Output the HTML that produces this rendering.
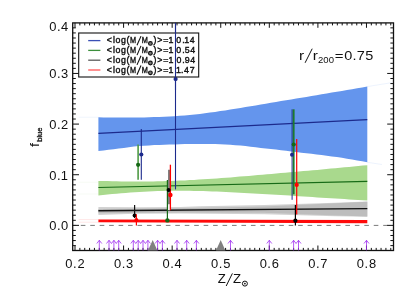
<!DOCTYPE html><html><head><meta charset="utf-8"><style>html,body{margin:0;padding:0;background:#fff;}svg{display:block;will-change:transform;}text{font-family:"Liberation Sans",sans-serif;fill:#111;}</style></head><body>
<svg width="415" height="297" viewBox="0 0 415 297">
<rect width="415" height="297" fill="#fff"/>
<filter id="idf" x="0" y="0" width="415" height="297" filterUnits="userSpaceOnUse"><feOffset dx="0" dy="0"/></filter>
<g filter="url(#idf)">
<polygon points="98.4,117.3 103.5,117.4 108.5,117.5 113.6,117.5 118.7,117.6 123.8,117.6 128.8,117.6 133.9,117.5 139.0,117.5 144.1,117.4 149.1,117.2 154.2,117.1 159.3,116.9 164.4,116.7 169.4,116.5 174.5,116.2 179.6,115.8 184.7,115.5 189.7,115.0 194.8,114.5 199.9,114.0 204.9,113.3 210.0,112.6 215.1,111.9 220.2,111.1 225.2,110.4 230.3,109.6 235.4,108.7 240.5,107.9 245.5,107.1 250.6,106.3 255.7,105.5 260.8,104.6 265.8,103.7 270.9,102.8 276.0,101.9 281.0,101.1 286.1,100.2 291.2,99.4 296.3,98.6 301.3,97.7 306.4,96.9 311.5,96.0 316.6,95.2 321.6,94.3 326.7,93.5 331.8,92.6 336.9,91.8 341.9,90.9 347.0,90.0 352.1,89.2 357.2,88.3 362.2,87.5 367.3,86.6 367.3,162.3 362.2,161.3 357.2,160.4 352.1,159.5 347.0,158.7 341.9,157.8 336.9,157.1 331.8,156.4 326.7,155.7 321.6,155.0 316.6,154.4 311.5,153.8 306.4,153.3 301.3,152.7 296.3,152.1 291.2,151.4 286.1,150.8 281.0,150.2 276.0,149.6 270.9,149.1 265.8,148.5 260.8,147.9 255.7,147.3 250.6,146.7 245.5,146.1 240.5,145.6 235.4,145.2 230.3,144.8 225.2,144.5 220.2,144.3 215.1,144.1 210.0,144.0 204.9,144.0 199.9,143.9 194.8,143.9 189.7,143.9 184.7,144.0 179.6,144.3 174.5,144.4 169.4,144.6 164.4,144.8 159.3,144.9 154.2,145.1 149.1,145.4 144.1,145.7 139.0,146.1 133.9,146.6 128.8,147.2 123.8,147.9 118.7,148.6 113.6,149.2 108.5,149.8 103.5,150.4 98.4,151.0" fill="#6495ed" fill-opacity="1"/>
<line x1="98.4" y1="133.4" x2="367.3" y2="119.6" stroke="#1c2a8c" stroke-width="1.2"/>
<polygon points="98.4,180.9 103.0,181.0 107.5,181.1 112.1,181.2 116.6,181.3 121.2,181.4 125.7,181.4 130.3,181.5 134.9,181.5 139.4,181.5 144.0,181.5 148.5,181.5 153.1,181.4 157.6,181.3 162.2,181.2 166.8,181.1 171.3,180.9 175.9,180.8 180.4,180.6 185.0,180.4 189.6,180.1 194.1,179.9 198.7,179.6 203.2,179.3 207.8,179.0 212.3,178.7 216.9,178.4 221.5,178.0 226.0,177.7 230.6,177.4 235.1,177.0 239.7,176.6 244.2,176.3 248.8,175.9 253.4,175.5 257.9,175.1 262.5,174.7 267.0,174.3 271.6,173.9 276.1,173.5 280.7,173.1 285.3,172.7 289.8,172.3 294.4,171.9 298.9,171.5 303.5,171.1 308.1,170.7 312.6,170.3 317.2,169.9 321.7,169.4 326.3,169.0 330.8,168.6 335.4,168.2 340.0,167.8 344.5,167.3 349.1,166.9 353.6,166.5 358.2,166.1 362.7,165.6 367.3,165.2 367.3,200.6 362.7,200.3 358.2,200.0 353.6,199.7 349.1,199.4 344.5,199.1 340.0,198.8 335.4,198.5 330.8,198.2 326.3,197.9 321.7,197.7 317.2,197.4 312.6,197.1 308.1,196.8 303.5,196.5 298.9,196.2 294.4,195.9 289.8,195.6 285.3,195.3 280.7,195.1 276.1,194.8 271.6,194.5 267.0,194.2 262.5,194.0 257.9,193.7 253.4,193.5 248.8,193.2 244.2,193.0 239.7,192.7 235.1,192.5 230.6,192.2 226.0,192.0 221.5,191.8 216.9,191.6 212.3,191.4 207.8,191.3 203.2,191.1 198.7,191.0 194.1,190.9 189.6,190.8 185.0,190.7 180.4,190.7 175.9,190.7 171.3,190.8 166.8,190.8 162.2,190.9 157.6,191.1 153.1,191.3 148.5,191.5 144.0,191.7 139.4,192.0 134.9,192.3 130.3,192.6 125.7,193.0 121.2,193.3 116.6,193.7 112.1,194.1 107.5,194.5 103.0,194.9 98.4,195.4" fill="#a9d98d" fill-opacity="1"/>
<line x1="98.4" y1="187.5" x2="367.3" y2="181.3" stroke="#176b17" stroke-width="1.2"/>
<polygon points="98.4,206.9 140.0,207.3 180.0,207.0 200.0,206.2 264.0,205.0 335.0,202.7 367.3,201.6 367.3,216.7 335.0,216.2 264.0,214.3 180.0,213.6 135.0,213.7 98.4,215.0" fill="#d2d2d2" fill-opacity="1"/>
<polygon points="98.4,208.9 180.0,208.3 264.0,206.6 330.0,203.6 367.3,201.8 367.3,216.6 330.0,215.2 264.0,212.8 180.0,212.4 98.4,213.2" fill="#bdbdbd" fill-opacity="1"/>
<line x1="98.4" y1="210.75" x2="367.3" y2="208.6" stroke="#111" stroke-width="1.3"/>
<polygon points="98.4,219.5 367.3,220.0 367.3,223.2 98.4,222.3" fill="#ff0a0a" fill-opacity="1"/>
<line x1="72.7" y1="225.4" x2="393.5" y2="225.4" stroke="#7a7a7a" stroke-width="1" stroke-dasharray="4.6 4.85" stroke-dashoffset="1.35"/>
<line x1="78.7" y1="117.2" x2="98.4" y2="117.2" stroke="#6495ed" stroke-width="0.6" stroke-opacity="0.17"/>
<line x1="78.7" y1="219.6" x2="98.4" y2="219.6" stroke="#ff0000" stroke-width="0.6" stroke-opacity="0.17"/>
<line x1="78.7" y1="222.2" x2="98.4" y2="222.2" stroke="#ff0000" stroke-width="0.6" stroke-opacity="0.17"/>
<line x1="78.7" y1="182.2" x2="98.4" y2="182.2" stroke="#a9d98d" stroke-width="0.6" stroke-opacity="0.17"/>
<line x1="78.7" y1="194.0" x2="98.4" y2="194.0" stroke="#a9d98d" stroke-width="0.6" stroke-opacity="0.17"/>
<line x1="367.3" y1="86.6" x2="392" y2="82.6" stroke="#6495ed" stroke-width="0.6" stroke-opacity="0.2"/>
<line x1="367.3" y1="162.3" x2="382" y2="164.5" stroke="#6495ed" stroke-width="0.6" stroke-opacity="0.2"/>
<line x1="138.1" y1="144.5" x2="138.1" y2="179.7" stroke="#4f9a45" stroke-width="1.6"/>
<circle cx="138.1" cy="164.8" r="2.1" fill="#156815"/>
<line x1="141.3" y1="129.0" x2="141.3" y2="179.7" stroke="#1c2a8c" stroke-width="1.1"/>
<circle cx="141.3" cy="154.5" r="2.1" fill="#1c2a8c"/>
<line x1="134.6" y1="205.1" x2="134.6" y2="218.0" stroke="#111" stroke-width="1.2"/>
<circle cx="134.6" cy="215.4" r="2.0" fill="#000"/>
<line x1="136.4" y1="214.2" x2="136.4" y2="225.6" stroke="#ff0000" stroke-width="1.2"/>
<circle cx="136.4" cy="220.0" r="2.0" fill="#ff0000"/>
<line x1="175.5" y1="22.9" x2="175.5" y2="189.4" stroke="#1c2a8c" stroke-width="1.1"/>
<circle cx="175.6" cy="79.1" r="2.1" fill="#1c2a8c"/>
<line x1="169.0" y1="169.8" x2="169.0" y2="204.5" stroke="#808080" stroke-width="2.0"/>
<line x1="169.0" y1="204.5" x2="169.0" y2="210.2" stroke="#f4f4f4" stroke-width="2.0"/>
<line x1="167.4" y1="180.0" x2="167.4" y2="220.4" stroke="#156815" stroke-width="1.2"/>
<circle cx="167.4" cy="220.4" r="2.2" fill="#156815"/>
<line x1="170.4" y1="164.7" x2="170.4" y2="210.2" stroke="#ff0000" stroke-width="1.3"/>
<circle cx="170.4" cy="195.0" r="2.2" fill="#ff0000"/>
<circle cx="168.6" cy="190.1" r="2.0" fill="#000"/>
<line x1="292.1" y1="109.3" x2="292.1" y2="199.8" stroke="#1c2a8c" stroke-width="1.0"/>
<line x1="293.7" y1="109.3" x2="293.7" y2="194.3" stroke="#1d7a2d" stroke-width="1.8"/>
<circle cx="293.7" cy="144.5" r="2.1" fill="#156815"/>
<circle cx="292.0" cy="154.8" r="2.0" fill="#1c2a8c"/>
<line x1="296.7" y1="139.1" x2="296.7" y2="214.5" stroke="#ff0000" stroke-width="1.2"/>
<circle cx="296.7" cy="184.9" r="2.1" fill="#ff0000"/>
<line x1="295.4" y1="204.9" x2="295.4" y2="225.6" stroke="#000" stroke-width="1.2"/>
<circle cx="295.4" cy="220.7" r="2.1" fill="#000"/>
<rect x="72.7" y="22.9" width="320.8" height="227.6" fill="none" stroke="#111" stroke-width="1.3"/>
<path d="M75.00 22.9v4.9 M75.00 250.4v-4.9 M79.86 22.9v2.5 M79.86 250.4v-2.5 M84.72 22.9v2.5 M84.72 250.4v-2.5 M89.57 22.9v2.5 M89.57 250.4v-2.5 M94.43 22.9v2.5 M94.43 250.4v-2.5 M99.29 22.9v2.5 M99.29 250.4v-2.5 M104.15 22.9v2.5 M104.15 250.4v-2.5 M109.01 22.9v2.5 M109.01 250.4v-2.5 M113.86 22.9v2.5 M113.86 250.4v-2.5 M118.72 22.9v2.5 M118.72 250.4v-2.5 M123.58 22.9v4.9 M123.58 250.4v-4.9 M128.44 22.9v2.5 M128.44 250.4v-2.5 M133.30 22.9v2.5 M133.30 250.4v-2.5 M138.15 22.9v2.5 M138.15 250.4v-2.5 M143.01 22.9v2.5 M143.01 250.4v-2.5 M147.87 22.9v2.5 M147.87 250.4v-2.5 M152.73 22.9v2.5 M152.73 250.4v-2.5 M157.59 22.9v2.5 M157.59 250.4v-2.5 M162.44 22.9v2.5 M162.44 250.4v-2.5 M167.30 22.9v2.5 M167.30 250.4v-2.5 M172.16 22.9v4.9 M172.16 250.4v-4.9 M177.02 22.9v2.5 M177.02 250.4v-2.5 M181.88 22.9v2.5 M181.88 250.4v-2.5 M186.73 22.9v2.5 M186.73 250.4v-2.5 M191.59 22.9v2.5 M191.59 250.4v-2.5 M196.45 22.9v2.5 M196.45 250.4v-2.5 M201.31 22.9v2.5 M201.31 250.4v-2.5 M206.17 22.9v2.5 M206.17 250.4v-2.5 M211.02 22.9v2.5 M211.02 250.4v-2.5 M215.88 22.9v2.5 M215.88 250.4v-2.5 M220.74 22.9v4.9 M220.74 250.4v-4.9 M225.60 22.9v2.5 M225.60 250.4v-2.5 M230.46 22.9v2.5 M230.46 250.4v-2.5 M235.31 22.9v2.5 M235.31 250.4v-2.5 M240.17 22.9v2.5 M240.17 250.4v-2.5 M245.03 22.9v2.5 M245.03 250.4v-2.5 M249.89 22.9v2.5 M249.89 250.4v-2.5 M254.75 22.9v2.5 M254.75 250.4v-2.5 M259.60 22.9v2.5 M259.60 250.4v-2.5 M264.46 22.9v2.5 M264.46 250.4v-2.5 M269.32 22.9v4.9 M269.32 250.4v-4.9 M274.18 22.9v2.5 M274.18 250.4v-2.5 M279.04 22.9v2.5 M279.04 250.4v-2.5 M283.89 22.9v2.5 M283.89 250.4v-2.5 M288.75 22.9v2.5 M288.75 250.4v-2.5 M293.61 22.9v2.5 M293.61 250.4v-2.5 M298.47 22.9v2.5 M298.47 250.4v-2.5 M303.33 22.9v2.5 M303.33 250.4v-2.5 M308.18 22.9v2.5 M308.18 250.4v-2.5 M313.04 22.9v2.5 M313.04 250.4v-2.5 M317.90 22.9v4.9 M317.90 250.4v-4.9 M322.76 22.9v2.5 M322.76 250.4v-2.5 M327.62 22.9v2.5 M327.62 250.4v-2.5 M332.47 22.9v2.5 M332.47 250.4v-2.5 M337.33 22.9v2.5 M337.33 250.4v-2.5 M342.19 22.9v2.5 M342.19 250.4v-2.5 M347.05 22.9v2.5 M347.05 250.4v-2.5 M351.91 22.9v2.5 M351.91 250.4v-2.5 M356.76 22.9v2.5 M356.76 250.4v-2.5 M361.62 22.9v2.5 M361.62 250.4v-2.5 M366.48 22.9v4.9 M366.48 250.4v-4.9 M371.34 22.9v2.5 M371.34 250.4v-2.5 M376.20 22.9v2.5 M376.20 250.4v-2.5 M381.05 22.9v2.5 M381.05 250.4v-2.5 M385.91 22.9v2.5 M385.91 250.4v-2.5 M390.77 22.9v2.5 M390.77 250.4v-2.5 M72.7 245.62h3.1 M393.5 245.62h-3.1 M72.7 240.55h3.1 M393.5 240.55h-3.1 M72.7 235.49h3.1 M393.5 235.49h-3.1 M72.7 230.42h3.1 M393.5 230.42h-3.1 M72.7 225.36h6.3 M393.5 225.36h-6.3 M72.7 220.30h3.1 M393.5 220.30h-3.1 M72.7 215.23h3.1 M393.5 215.23h-3.1 M72.7 210.17h3.1 M393.5 210.17h-3.1 M72.7 205.10h3.1 M393.5 205.10h-3.1 M72.7 200.04h3.1 M393.5 200.04h-3.1 M72.7 194.98h3.1 M393.5 194.98h-3.1 M72.7 189.91h3.1 M393.5 189.91h-3.1 M72.7 184.85h3.1 M393.5 184.85h-3.1 M72.7 179.78h3.1 M393.5 179.78h-3.1 M72.7 174.72h6.3 M393.5 174.72h-6.3 M72.7 169.66h3.1 M393.5 169.66h-3.1 M72.7 164.59h3.1 M393.5 164.59h-3.1 M72.7 159.53h3.1 M393.5 159.53h-3.1 M72.7 154.46h3.1 M393.5 154.46h-3.1 M72.7 149.40h3.1 M393.5 149.40h-3.1 M72.7 144.34h3.1 M393.5 144.34h-3.1 M72.7 139.27h3.1 M393.5 139.27h-3.1 M72.7 134.21h3.1 M393.5 134.21h-3.1 M72.7 129.14h3.1 M393.5 129.14h-3.1 M72.7 124.08h6.3 M393.5 124.08h-6.3 M72.7 119.02h3.1 M393.5 119.02h-3.1 M72.7 113.95h3.1 M393.5 113.95h-3.1 M72.7 108.89h3.1 M393.5 108.89h-3.1 M72.7 103.82h3.1 M393.5 103.82h-3.1 M72.7 98.76h3.1 M393.5 98.76h-3.1 M72.7 93.70h3.1 M393.5 93.70h-3.1 M72.7 88.63h3.1 M393.5 88.63h-3.1 M72.7 83.57h3.1 M393.5 83.57h-3.1 M72.7 78.50h3.1 M393.5 78.50h-3.1 M72.7 73.44h6.3 M393.5 73.44h-6.3 M72.7 68.38h3.1 M393.5 68.38h-3.1 M72.7 63.31h3.1 M393.5 63.31h-3.1 M72.7 58.25h3.1 M393.5 58.25h-3.1 M72.7 53.18h3.1 M393.5 53.18h-3.1 M72.7 48.12h3.1 M393.5 48.12h-3.1 M72.7 43.06h3.1 M393.5 43.06h-3.1 M72.7 37.99h3.1 M393.5 37.99h-3.1 M72.7 32.93h3.1 M393.5 32.93h-3.1 M72.7 27.86h3.1 M393.5 27.86h-3.1" stroke="#111" stroke-width="1" fill="none"/>
<path d="M99.3 250.4 V240.3 M96.8 243.5 L99.3 240.3 L101.8 243.5" fill="none" stroke="#a030f0" stroke-width="0.8"/>
<path d="M109.0 250.4 V240.3 M106.5 243.5 L109.0 240.3 L111.5 243.5" fill="none" stroke="#a030f0" stroke-width="0.8"/>
<path d="M113.9 250.4 V240.3 M111.4 243.5 L113.9 240.3 L116.4 243.5" fill="none" stroke="#a030f0" stroke-width="0.8"/>
<path d="M118.7 250.4 V240.3 M116.2 243.5 L118.7 240.3 L121.2 243.5" fill="none" stroke="#a030f0" stroke-width="0.8"/>
<path d="M133.3 250.4 V240.3 M130.8 243.5 L133.3 240.3 L135.8 243.5" fill="none" stroke="#a030f0" stroke-width="0.8"/>
<path d="M138.2 250.4 V240.3 M135.7 243.5 L138.2 240.3 L140.7 243.5" fill="none" stroke="#a030f0" stroke-width="0.8"/>
<path d="M143.0 250.4 V240.3 M140.5 243.5 L143.0 240.3 L145.5 243.5" fill="none" stroke="#a030f0" stroke-width="0.8"/>
<path d="M147.9 250.4 V240.3 M145.4 243.5 L147.9 240.3 L150.4 243.5" fill="none" stroke="#a030f0" stroke-width="0.8"/>
<path d="M157.6 250.4 V240.3 M155.1 243.5 L157.6 240.3 L160.1 243.5" fill="none" stroke="#a030f0" stroke-width="0.8"/>
<path d="M162.4 250.4 V240.3 M159.9 243.5 L162.4 240.3 L164.9 243.5" fill="none" stroke="#a030f0" stroke-width="0.8"/>
<path d="M177.0 250.4 V240.3 M174.5 243.5 L177.0 240.3 L179.5 243.5" fill="none" stroke="#a030f0" stroke-width="0.8"/>
<path d="M186.7 250.4 V240.3 M184.2 243.5 L186.7 240.3 L189.2 243.5" fill="none" stroke="#a030f0" stroke-width="0.8"/>
<path d="M196.4 250.4 V240.3 M193.9 243.5 L196.4 240.3 L198.9 243.5" fill="none" stroke="#a030f0" stroke-width="0.8"/>
<path d="M230.5 250.4 V240.3 M228.0 243.5 L230.5 240.3 L233.0 243.5" fill="none" stroke="#a030f0" stroke-width="0.8"/>
<path d="M269.3 250.4 V240.3 M266.8 243.5 L269.3 240.3 L271.8 243.5" fill="none" stroke="#a030f0" stroke-width="0.8"/>
<path d="M293.6 250.4 V240.3 M291.1 243.5 L293.6 240.3 L296.1 243.5" fill="none" stroke="#a030f0" stroke-width="0.8"/>
<path d="M298.5 250.4 V240.3 M296.0 243.5 L298.5 240.3 L301.0 243.5" fill="none" stroke="#a030f0" stroke-width="0.8"/>
<path d="M366.5 250.4 V240.3 M364.0 243.5 L366.5 240.3 L369.0 243.5" fill="none" stroke="#a030f0" stroke-width="0.8"/>
<polygon points="148.0,250.4 152.7,240.1 157.4,250.4" fill="#808080"/>
<polygon points="216.0,250.4 220.7,240.1 225.4,250.4" fill="#808080"/>
<text transform="translate(49.31,31.30) scale(1.050,1)" font-size="12.3" >0</text>
<text transform="translate(57.00,31.30) scale(1.050,1)" font-size="12.3" >.</text>
<text transform="translate(61.05,31.30) scale(1.050,1)" font-size="12.3" >4</text>
<text transform="translate(49.31,78.30) scale(1.050,1)" font-size="12.3" >0</text>
<text transform="translate(57.00,78.30) scale(1.050,1)" font-size="12.3" >.</text>
<text transform="translate(61.05,78.30) scale(1.050,1)" font-size="12.3" >3</text>
<text transform="translate(49.31,129.10) scale(1.050,1)" font-size="12.3" >0</text>
<text transform="translate(57.00,129.10) scale(1.050,1)" font-size="12.3" >.</text>
<text transform="translate(61.01,129.10) scale(1.050,1)" font-size="12.3" >2</text>
<text transform="translate(49.31,179.70) scale(1.050,1)" font-size="12.3" >0</text>
<text transform="translate(57.00,179.70) scale(1.050,1)" font-size="12.3" >.</text>
<text transform="translate(60.84,179.70) scale(1.050,1)" font-size="12.3" >1</text>
<text transform="translate(49.31,230.30) scale(1.050,1)" font-size="12.3" >0</text>
<text transform="translate(57.00,230.30) scale(1.050,1)" font-size="12.3" >.</text>
<text transform="translate(61.01,230.30) scale(1.050,1)" font-size="12.3" >0</text>
<text transform="translate(65.36,268.40) scale(1.050,1)" font-size="12.3" >0</text>
<text transform="translate(73.05,268.40) scale(1.050,1)" font-size="12.3" >.</text>
<text transform="translate(77.41,268.40) scale(1.050,1)" font-size="12.3" >2</text>
<text transform="translate(113.94,268.40) scale(1.050,1)" font-size="12.3" >0</text>
<text transform="translate(121.63,268.40) scale(1.050,1)" font-size="12.3" >.</text>
<text transform="translate(126.03,268.40) scale(1.050,1)" font-size="12.3" >3</text>
<text transform="translate(162.52,268.40) scale(1.050,1)" font-size="12.3" >0</text>
<text transform="translate(170.21,268.40) scale(1.050,1)" font-size="12.3" >.</text>
<text transform="translate(174.61,268.40) scale(1.050,1)" font-size="12.3" >4</text>
<text transform="translate(211.10,268.40) scale(1.050,1)" font-size="12.3" >0</text>
<text transform="translate(218.79,268.40) scale(1.050,1)" font-size="12.3" >.</text>
<text transform="translate(223.16,268.40) scale(1.050,1)" font-size="12.3" >5</text>
<text transform="translate(259.68,268.40) scale(1.050,1)" font-size="12.3" >0</text>
<text transform="translate(267.37,268.40) scale(1.050,1)" font-size="12.3" >.</text>
<text transform="translate(271.68,268.40) scale(1.050,1)" font-size="12.3" >6</text>
<text transform="translate(308.26,268.40) scale(1.050,1)" font-size="12.3" >0</text>
<text transform="translate(315.95,268.40) scale(1.050,1)" font-size="12.3" >.</text>
<text transform="translate(320.30,268.40) scale(1.050,1)" font-size="12.3" >7</text>
<text transform="translate(356.84,268.40) scale(1.050,1)" font-size="12.3" >0</text>
<text transform="translate(364.53,268.40) scale(1.050,1)" font-size="12.3" >.</text>
<text transform="translate(368.89,268.40) scale(1.050,1)" font-size="12.3" >8</text>
<text transform="translate(217.71,282.80) scale(1.100,1)" font-size="12.0" >Z</text>
<text transform="translate(233.11,282.80) scale(1.100,1)" font-size="12.0" >Z</text>
<line x1="226.2" y1="286.0" x2="232.4" y2="273.4" stroke="#111" stroke-width="1.0"/>
<circle cx="244.9" cy="283.6" r="2.5" fill="none" stroke="#111" stroke-width="1.0"/><circle cx="244.9" cy="283.6" r="0.85" fill="#111"/>
<text transform="translate(38.7,146.9) rotate(-90)" font-size="12.2" textLength="3.9" lengthAdjust="spacingAndGlyphs">f</text>
<text transform="translate(42.4,141.8) rotate(-90)" font-size="7.8" stroke="#111" stroke-width="0.3" textLength="14.3" lengthAdjust="spacingAndGlyphs">blue</text>
<text transform="translate(298.91,59.50) scale(1.250,1)" font-size="12.3" >r</text>
<text transform="translate(312.81,59.50) scale(1.250,1)" font-size="12.3" >r</text>
<line x1="305.1" y1="62.8" x2="312.2" y2="48.7" stroke="#111" stroke-width="1.0"/>
<text transform="translate(318.05,63.30) scale(1.150,1)" font-size="8.3" >2</text>
<text transform="translate(323.35,63.30) scale(1.150,1)" font-size="8.3" >0</text>
<text transform="translate(328.75,63.30) scale(1.150,1)" font-size="8.3" >0</text>
<text transform="translate(334.67,59.90) scale(1.200,1)" font-size="12.5" >=</text>
<text transform="translate(344.17,59.70) scale(1.160,1)" font-size="12.5" >0</text>
<text transform="translate(352.58,59.70) scale(1.160,1)" font-size="12.5" >.</text>
<text transform="translate(356.86,59.70) scale(1.160,1)" font-size="12.5" >7</text>
<text transform="translate(365.33,59.70) scale(1.160,1)" font-size="12.5" >5</text>
<rect x="78.7" y="33.0" width="120.0" height="44.0" fill="#fff" stroke="#111" stroke-width="1.1"/>
<line x1="88.2" y1="40.6" x2="100.4" y2="40.6" stroke="#3a4fb5" stroke-width="1.3"/>
<text transform="translate(106.83,43.10) scale(1.000,1)" font-size="8.8" stroke="#111" stroke-width="0.4">&lt;</text>
<text transform="translate(113.02,43.10) scale(1.000,1)" font-size="8.8" stroke="#111" stroke-width="0.4">l</text>
<text transform="translate(115.45,43.10) scale(1.000,1)" font-size="8.8" stroke="#111" stroke-width="0.4">o</text>
<text transform="translate(121.05,43.10) scale(1.000,1)" font-size="8.8" stroke="#111" stroke-width="0.4">g</text>
<text transform="translate(126.49,43.10) scale(1.000,1)" font-size="8.8" stroke="#111" stroke-width="0.4">(</text>
<text transform="translate(130.06,43.10) scale(0.830,1)" font-size="8.8" stroke="#111" stroke-width="0.4">M</text>
<text transform="translate(141.76,43.10) scale(0.830,1)" font-size="8.8" stroke="#111" stroke-width="0.4">M</text>
<text transform="translate(153.48,43.10) scale(1.000,1)" font-size="8.8" stroke="#111" stroke-width="0.4">)</text>
<text transform="translate(157.23,43.10) scale(1.000,1)" font-size="8.8" stroke="#111" stroke-width="0.4">&gt;</text>
<text transform="translate(163.23,43.10) scale(1.000,1)" font-size="8.8" stroke="#111" stroke-width="0.4">=</text>
<text transform="translate(168.53,43.10) scale(1.000,1)" font-size="8.8" stroke="#111" stroke-width="0.4">1</text>
<text transform="translate(176.35,43.10) scale(1.000,1)" font-size="8.8" stroke="#111" stroke-width="0.4">0</text>
<text transform="translate(182.18,43.10) scale(1.000,1)" font-size="8.8" stroke="#111" stroke-width="0.4">.</text>
<text transform="translate(184.33,43.10) scale(1.000,1)" font-size="8.8" stroke="#111" stroke-width="0.4">1</text>
<text transform="translate(189.78,43.10) scale(1.000,1)" font-size="8.8" stroke="#111" stroke-width="0.4">4</text>
<line x1="137.0" y1="45.3" x2="141.0" y2="36.1" stroke="#111" stroke-width="1.1"/>
<circle cx="150.4" cy="43.4" r="1.85" fill="#777" stroke="#111" stroke-width="1.15"/>
<line x1="88.2" y1="50.4" x2="100.4" y2="50.4" stroke="#3c8f3c" stroke-width="1.3"/>
<text transform="translate(106.83,52.90) scale(1.000,1)" font-size="8.8" stroke="#111" stroke-width="0.4">&lt;</text>
<text transform="translate(113.02,52.90) scale(1.000,1)" font-size="8.8" stroke="#111" stroke-width="0.4">l</text>
<text transform="translate(115.45,52.90) scale(1.000,1)" font-size="8.8" stroke="#111" stroke-width="0.4">o</text>
<text transform="translate(121.05,52.90) scale(1.000,1)" font-size="8.8" stroke="#111" stroke-width="0.4">g</text>
<text transform="translate(126.49,52.90) scale(1.000,1)" font-size="8.8" stroke="#111" stroke-width="0.4">(</text>
<text transform="translate(130.06,52.90) scale(0.830,1)" font-size="8.8" stroke="#111" stroke-width="0.4">M</text>
<text transform="translate(141.76,52.90) scale(0.830,1)" font-size="8.8" stroke="#111" stroke-width="0.4">M</text>
<text transform="translate(153.48,52.90) scale(1.000,1)" font-size="8.8" stroke="#111" stroke-width="0.4">)</text>
<text transform="translate(157.23,52.90) scale(1.000,1)" font-size="8.8" stroke="#111" stroke-width="0.4">&gt;</text>
<text transform="translate(163.23,52.90) scale(1.000,1)" font-size="8.8" stroke="#111" stroke-width="0.4">=</text>
<text transform="translate(168.53,52.90) scale(1.000,1)" font-size="8.8" stroke="#111" stroke-width="0.4">1</text>
<text transform="translate(176.35,52.90) scale(1.000,1)" font-size="8.8" stroke="#111" stroke-width="0.4">0</text>
<text transform="translate(182.18,52.90) scale(1.000,1)" font-size="8.8" stroke="#111" stroke-width="0.4">.</text>
<text transform="translate(184.66,52.90) scale(1.000,1)" font-size="8.8" stroke="#111" stroke-width="0.4">5</text>
<text transform="translate(190.18,52.90) scale(1.000,1)" font-size="8.8" stroke="#111" stroke-width="0.4">4</text>
<line x1="137.0" y1="55.1" x2="141.0" y2="45.9" stroke="#111" stroke-width="1.1"/>
<circle cx="150.4" cy="53.2" r="1.85" fill="#777" stroke="#111" stroke-width="1.15"/>
<line x1="88.2" y1="60.2" x2="100.4" y2="60.2" stroke="#5a5a5a" stroke-width="1.3"/>
<text transform="translate(106.83,62.70) scale(1.000,1)" font-size="8.8" stroke="#111" stroke-width="0.4">&lt;</text>
<text transform="translate(113.02,62.70) scale(1.000,1)" font-size="8.8" stroke="#111" stroke-width="0.4">l</text>
<text transform="translate(115.45,62.70) scale(1.000,1)" font-size="8.8" stroke="#111" stroke-width="0.4">o</text>
<text transform="translate(121.05,62.70) scale(1.000,1)" font-size="8.8" stroke="#111" stroke-width="0.4">g</text>
<text transform="translate(126.49,62.70) scale(1.000,1)" font-size="8.8" stroke="#111" stroke-width="0.4">(</text>
<text transform="translate(130.06,62.70) scale(0.830,1)" font-size="8.8" stroke="#111" stroke-width="0.4">M</text>
<text transform="translate(141.76,62.70) scale(0.830,1)" font-size="8.8" stroke="#111" stroke-width="0.4">M</text>
<text transform="translate(153.48,62.70) scale(1.000,1)" font-size="8.8" stroke="#111" stroke-width="0.4">)</text>
<text transform="translate(157.23,62.70) scale(1.000,1)" font-size="8.8" stroke="#111" stroke-width="0.4">&gt;</text>
<text transform="translate(163.23,62.70) scale(1.000,1)" font-size="8.8" stroke="#111" stroke-width="0.4">=</text>
<text transform="translate(168.53,62.70) scale(1.000,1)" font-size="8.8" stroke="#111" stroke-width="0.4">1</text>
<text transform="translate(176.45,62.70) scale(1.000,1)" font-size="8.8" stroke="#111" stroke-width="0.4">0</text>
<text transform="translate(182.18,62.70) scale(1.000,1)" font-size="8.8" stroke="#111" stroke-width="0.4">.</text>
<text transform="translate(184.85,62.70) scale(1.000,1)" font-size="8.8" stroke="#111" stroke-width="0.4">9</text>
<text transform="translate(190.18,62.70) scale(1.000,1)" font-size="8.8" stroke="#111" stroke-width="0.4">4</text>
<line x1="137.0" y1="64.9" x2="141.0" y2="55.7" stroke="#111" stroke-width="1.1"/>
<circle cx="150.4" cy="63.0" r="1.85" fill="#777" stroke="#111" stroke-width="1.15"/>
<line x1="88.2" y1="70.0" x2="100.4" y2="70.0" stroke="#ff5555" stroke-width="1.3"/>
<text transform="translate(106.83,72.50) scale(1.000,1)" font-size="8.8" stroke="#111" stroke-width="0.4">&lt;</text>
<text transform="translate(113.02,72.50) scale(1.000,1)" font-size="8.8" stroke="#111" stroke-width="0.4">l</text>
<text transform="translate(115.45,72.50) scale(1.000,1)" font-size="8.8" stroke="#111" stroke-width="0.4">o</text>
<text transform="translate(121.05,72.50) scale(1.000,1)" font-size="8.8" stroke="#111" stroke-width="0.4">g</text>
<text transform="translate(126.49,72.50) scale(1.000,1)" font-size="8.8" stroke="#111" stroke-width="0.4">(</text>
<text transform="translate(130.06,72.50) scale(0.830,1)" font-size="8.8" stroke="#111" stroke-width="0.4">M</text>
<text transform="translate(141.76,72.50) scale(0.830,1)" font-size="8.8" stroke="#111" stroke-width="0.4">M</text>
<text transform="translate(153.48,72.50) scale(1.000,1)" font-size="8.8" stroke="#111" stroke-width="0.4">)</text>
<text transform="translate(157.23,72.50) scale(1.000,1)" font-size="8.8" stroke="#111" stroke-width="0.4">&gt;</text>
<text transform="translate(163.23,72.50) scale(1.000,1)" font-size="8.8" stroke="#111" stroke-width="0.4">=</text>
<text transform="translate(168.53,72.50) scale(1.000,1)" font-size="8.8" stroke="#111" stroke-width="0.4">1</text>
<text transform="translate(175.93,72.50) scale(1.000,1)" font-size="8.8" stroke="#111" stroke-width="0.4">1</text>
<text transform="translate(180.98,72.50) scale(1.000,1)" font-size="8.8" stroke="#111" stroke-width="0.4">.</text>
<text transform="translate(184.08,72.50) scale(1.000,1)" font-size="8.8" stroke="#111" stroke-width="0.4">4</text>
<text transform="translate(189.85,72.50) scale(1.000,1)" font-size="8.8" stroke="#111" stroke-width="0.4">7</text>
<line x1="137.0" y1="74.7" x2="141.0" y2="65.5" stroke="#111" stroke-width="1.1"/>
<circle cx="150.4" cy="72.8" r="1.85" fill="#777" stroke="#111" stroke-width="1.15"/>
<line x1="175.5" y1="22.9" x2="175.5" y2="90.0" stroke="#1c2a8c" stroke-width="1.1"/>
</g>
</svg></body></html>
